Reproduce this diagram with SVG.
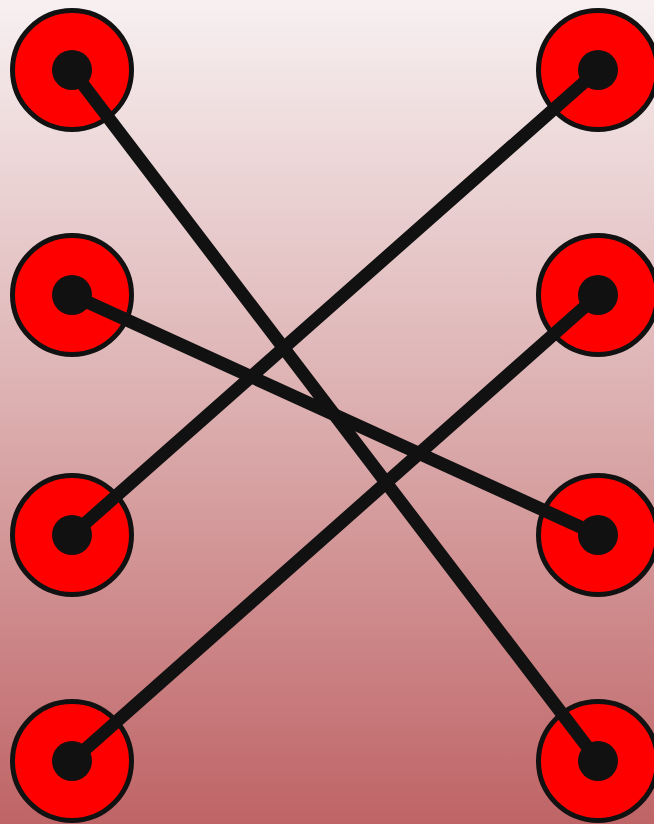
<svg xmlns="http://www.w3.org/2000/svg" width="654" height="824" viewBox="0 0 654 824">
  <defs>
    <linearGradient id="bg" x1="0" y1="0" x2="0" y2="1">
      <stop offset="0" stop-color="#f7f0f1"/>
      <stop offset="0.5" stop-color="#dcaeaf"/>
      <stop offset="1" stop-color="#bf6466"/>
    </linearGradient>
  </defs>
  <style>
    .ring { fill: #ff0000; stroke: #111111; stroke-width: 5; }
    .dot { fill: #111111; }
    .edge { stroke: #111111; stroke-width: 13; stroke-linecap: round; fill: none; }
  </style>
  <rect x="0" y="0" width="654" height="824" fill="url(#bg)"/>
  <g id="rings">
    <g id="L1"><circle class="ring" cx="72" cy="70" r="59.5"/></g>
    <g id="L2"><circle class="ring" cx="72" cy="295" r="59.5"/></g>
    <g id="L3"><circle class="ring" cx="72" cy="535" r="59.5"/></g>
    <g id="L4"><circle class="ring" cx="72" cy="761" r="59.5"/></g>
    <g id="R1"><circle class="ring" cx="598" cy="70" r="59.5"/></g>
    <g id="R2"><circle class="ring" cx="598" cy="295" r="59.5"/></g>
    <g id="R3"><circle class="ring" cx="598" cy="535" r="59.5"/></g>
    <g id="R4"><circle class="ring" cx="598" cy="761" r="59.5"/></g>
  </g>
  <g id="connectors">
    <line class="edge" x1="72" y1="70" x2="598" y2="761"/>
    <line class="edge" x1="598" y1="70" x2="72" y2="535"/>
    <line class="edge" x1="72" y1="295" x2="598" y2="535"/>
    <line class="edge" x1="598" y1="295" x2="72" y2="761"/>
  </g>
  <g id="dots">
    <circle class="dot" cx="72" cy="70" r="20"/>
    <circle class="dot" cx="72" cy="295" r="20"/>
    <circle class="dot" cx="72" cy="535" r="20"/>
    <circle class="dot" cx="72" cy="761" r="20"/>
    <circle class="dot" cx="598" cy="70" r="20"/>
    <circle class="dot" cx="598" cy="295" r="20"/>
    <circle class="dot" cx="598" cy="535" r="20"/>
    <circle class="dot" cx="598" cy="761" r="20"/>
  </g>
</svg>
